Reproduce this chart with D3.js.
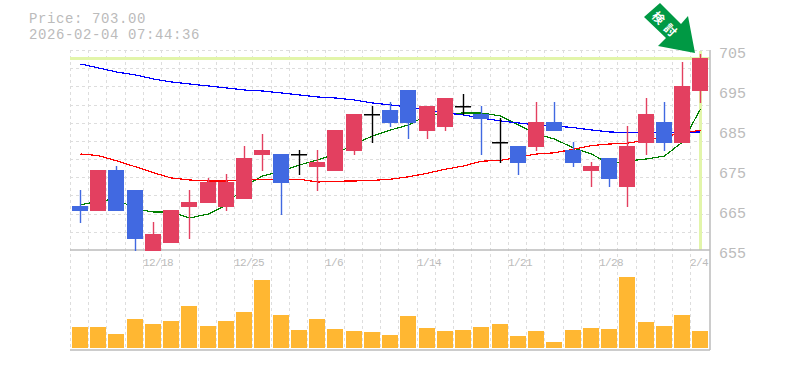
<!DOCTYPE html>
<html><head><meta charset="utf-8">
<style>html,body{margin:0;padding:0;background:#fff}svg{display:block}</style>
<script src="https://cdn.jsdelivr.net/npm/d3@7/dist/d3.min.js"></script>
</head><body><svg id="c" width="785" height="370"></svg>
<script>
const opens =[666,665,675,670,655,657,666,667,666,668,679,679,679,676,675,680,689,690,695,685,686,691,689,682,681,681,687,680,675,678,671,682,687,682,695];
const closes=[665,675,665,658,659,665,667,672,672,678,680,672,679,677,685,689,689,687,687,691,693,691,688,682,677,687,685,677,676,673,681,689,682,696,703];
const highs =[670,675,676,670,662,665,670,673,674,681,684,679,680,680,685,689,691,692,695,691,693,694,691,688,681,692,692,682,677,678,686,693,692,702,704];
const lows  =[662,665,665,655,655,657,658,667,665,668,675,664,674,670,675,679,682,686,683,683,685,689,679,677,674,680,685,676,671,671,666,679,680,682,692];
const maLong=[701.5,700.5,699.5,698.75,697.75,697,696.5,696,695.5,695,694.75,694.25,693.75,693.25,693,692.5,691.75,691.25,690.75,690,689.25,688.75,688,687.25,686.75,686.25,686,685.6,685,684.5,684.4,684.4,684.4,684.4,684.5];
const maMid =[679,678.6,677.3,675.8,674.3,673,672.5,672.25,672.25,672.6,672.6,672.6,672.7,672,672.2,672.25,672.4,672.7,673.3,674.2,675.2,676,677.2,677.4,678.2,679,679.3,680.2,681.1,681.5,681.7,682.5,683.3,684.3,684.9];
const maShort=[666.25,667.25,667.75,665.25,664.5,664.5,663,664,666.25,671,673.5,674.75,676.25,677.5,679,681.5,683.5,685,686.25,688.75,689,689.25,689.25,688.5,686.25,684,682.75,680.5,679,676.5,677.25,677.75,678.5,682,690.25];
const volumes=[2100,2100,1400,2900,2400,2700,4200,2200,2700,3600,6800,3300,1800,2900,1900,1700,1600,1300,3200,2000,1700,1800,2100,2400,1200,1700,600,1800,2000,1900,7100,2600,2200,3300,1700];
const dateLabels=["12/18","12/25","1/6","1/14","1/21","1/28","2/4"];
const dateIndex=[4,9,14,19,24,29,34];
const priceTicks=[705,695,685,675,665,655];
const currentPrice=703;
const titleLines=["Price: 703.00","2026-02-04 07:44:36"];
const arrowLabel="検討";

const RED="#e34060",BLUE="#4169e1",GRAY="#bbbbbb",GRID="#dddddd",FONT="'Liberation Mono','DejaVu Sans Mono',monospace";
const svg=d3.select("#c");
const idx=d3.range(opens.length);
const x=d3.scaleBand().domain(idx).range([70.5,709]);
const y=d3.scaleLinear().domain([655,705]).range([250,50]);
const yv=d3.scaleLinear().domain([0,7100]).range([348,277]);
const left=i=>Math.floor(x(i))+2;
const cx=i=>left(i)+8.5;

// grid
const g=svg.append("g").attr("stroke",GRID).attr("stroke-dasharray","3,3").attr("fill","none");
idx.forEach(i=>g.append("line").attr("x1",Math.floor(x(i))+.5).attr("x2",Math.floor(x(i))+.5).attr("y1",50).attr("y2",350));
d3.range(0,11).forEach(k=>{const v=Math.round(50+k*200/11)+.5;g.append("line").attr("x1",70).attr("x2",710).attr("y1",v).attr("y2",v);});

// current price guides
svg.append("line").attr("x1",70).attr("x2",710).attr("y1",y(currentPrice)+.5).attr("y2",y(currentPrice)+.5).attr("stroke","#e2f5aa").attr("stroke-width",3);
svg.append("line").attr("x1",cx(34)).attr("x2",cx(34)).attr("y1",51).attr("y2",250).attr("stroke","#e2f5aa").attr("stroke-width",3);

// frame
[[70,250,710,250],[70,350,710,350],[710,50,710,350]].forEach(a=>svg.append("line").attr("x1",a[0]).attr("y1",a[1]).attr("x2",a[2]).attr("y2",a[3]).attr("stroke",GRAY).attr("stroke-width",1.5));

// moving averages (under candles)
const line=d3.line().x((d,i)=>cx(i)).y(d=>y(d));
[[maShort,"green"],[maMid,"red"],[maLong,"blue"]].forEach(([s,c])=>svg.append("path").attr("d",line(s)).attr("fill","none").attr("stroke",c).attr("stroke-width",1.2).attr("shape-rendering","crispEdges"));

// candles
const color=i=>closes[i]>opens[i]?RED:closes[i]<opens[i]?BLUE:"#000";
const c=svg.append("g");
c.selectAll(".w").data(idx).join("line").attr("x1",cx).attr("x2",cx)
 .attr("y1",i=>y(highs[i])).attr("y2",i=>y(lows[i])+1).attr("stroke",color).attr("stroke-width",1.4);
c.selectAll(".b").data(idx).join("rect")
 .attr("x",left).attr("width",16)
 .attr("y",i=>y(Math.max(opens[i],closes[i])))
 .attr("height",i=>Math.max(1.5,Math.abs(opens[i]-closes[i])*4+1))
 .attr("fill",color);

// volume
svg.append("g").selectAll("rect").data(idx).join("rect")
 .attr("x",left).attr("width",16)
 .attr("y",i=>yv(volumes[i])).attr("height",i=>yv(0)-yv(volumes[i])).attr("fill","#ffb732");

// text
const t=svg.append("g").attr("font-family",FONT).attr("fill",GRAY);
t.selectAll(".p").data(priceTicks).join("text").attr("x",719).attr("y",d=>y(d)+8).attr("font-size",15).text(d=>d);
t.selectAll(".d").data(dateLabels).join("text").attr("x",(d,i)=>cx(dateIndex[i])-10.5).attr("y",266).attr("font-size",11).attr("letter-spacing",-0.6).text(d=>d);
t.selectAll(".t").data(titleLines).join("text").attr("x",29).attr("y",(d,i)=>22.5+i*16).attr("font-size",14).attr("letter-spacing",0.6).text(d=>d);

// arrow marker
const arrowPts=[[660,3],[644,17],[666,38],[658,46],[695,53],[688,16],[681,24]];
svg.append("polygon").attr("points",arrowPts.join(" ")).attr("fill","#009944");
svg.append("text").attr("transform","translate(667,25) rotate(45)").attr("text-anchor","middle").attr("dominant-baseline","central")
 .attr("font-family","'Noto Sans CJK JP'").attr("font-weight",700).attr("font-size",12).attr("letter-spacing",5).attr("fill","#fff").text(arrowLabel);
</script></body></html>
